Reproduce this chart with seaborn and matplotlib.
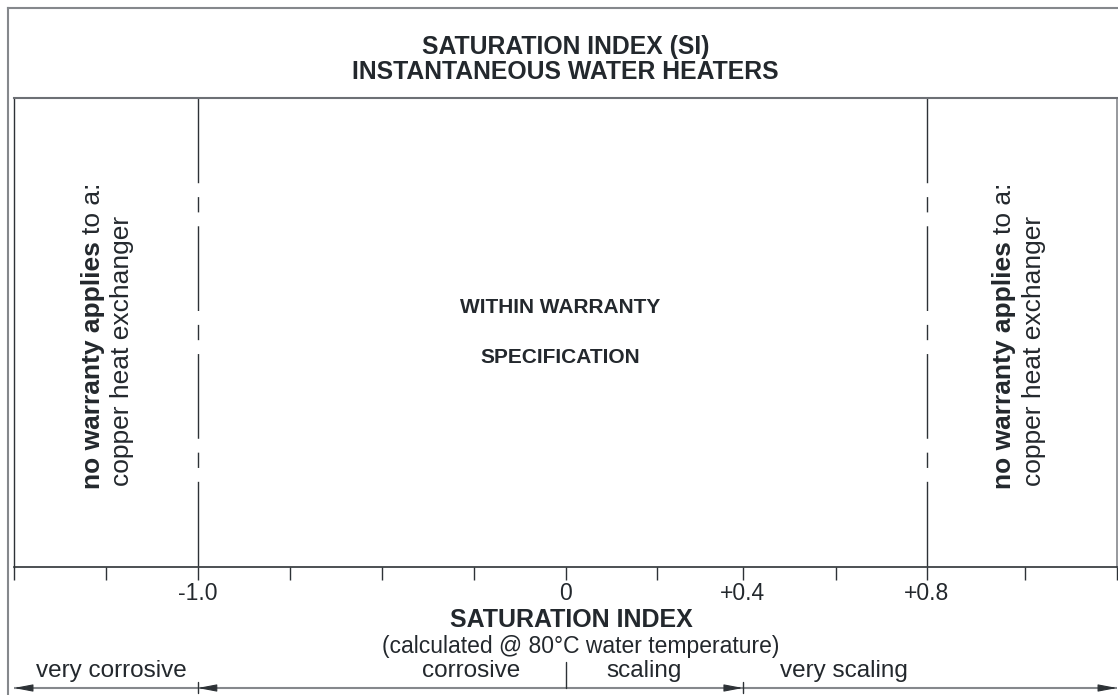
import matplotlib
matplotlib.use("Agg")
import matplotlib.pyplot as plt
import matplotlib.transforms as mtransforms
import seaborn as sns

# schematic SI axis: ticks are evenly drawn, only some carry a value
tick_pos = [0, 1, 2, 3, 4, 5, 6, 7, 7.93, 8.94, 9.93, 11, 12]
tick_labels = ["", "", "-1.0", "", "", "", "0", "", "+0.4", "", "+0.8", "", ""]

# warranty limits (-1.0 and +0.8)
warranty_limits = [2, 9.93]
# zone edges along the bottom arrow (start, -1.0, +0.4, end) and the 0 divider
zone_edges = [0, 2, 7.93, 12]
zero_pos = 6
zone_names = ["very corrosive", "corrosive", "scaling", "very scaling"]
zone_label_x = [1.055, 4.97, 6.85, 9.03]

title_lines = ["SATURATION INDEX (SI)", "INSTANTANEOUS WATER HEATERS"]
centre_lines = ["WITHIN WARRANTY", "SPECIFICATION"]
side_bold = "no warranty applies"
side_regular = "to a:"
side_second = "copper heat exchanger"
# baseline x of the two rotated lines in each excluded zone
side_x = [(0.94, 1.25), (10.85, 11.17)]

sns.set_theme(style="white")
plt.rcParams["font.family"] = ["Liberation Sans", "DejaVu Sans"]

TXT = "#23282d"
DARK = "#2d3236"
GREY = "#85888c"

W, H = 1118, 695
fig = plt.figure(figsize=(W / 100, H / 100), dpi=100)

# outer frame (only the top and left edges are visible)
frame = fig.add_axes([8 / W, -0.05, 1.0, 1 - 8 / H + 0.05], zorder=0)
frame.set_xticks([])
frame.set_yticks([])
frame.patch.set_visible(False)
sns.despine(ax=frame, top=False, left=False, right=True, bottom=True)
for s in ["top", "left"]:
    frame.spines[s].set_color(GREY)
    frame.spines[s].set_linewidth(1.5)

# main box: pixel 14..1117 horizontally, 98..567 vertically
ax = fig.add_axes([14 / W, 1 - 567 / H, 1103 / W, 469 / H], zorder=1)
ax.patch.set_visible(False)
ax.set_xlim(tick_pos[0], tick_pos[-1])
ax.set_ylim(0, 1)
ax.set_yticks([])
ax.set_xticks(tick_pos)
ax.set_xticklabels(tick_labels)
ax.tick_params(axis="x", direction="out", length=9.4, width=1, color=DARK,
               pad=1.5, labelsize=16.5, labelcolor=TXT, bottom=True)
ax.spines["top"].set_color("#6d7075")
ax.spines["top"].set_linewidth(1.5)
ax.spines["left"].set_color(DARK)
ax.spines["left"].set_linewidth(1)
ax.spines["right"].set_color(GREY)
ax.spines["right"].set_linewidth(1.2)
ax.spines["bottom"].set_color(DARK)
ax.spines["bottom"].set_linewidth(1.2)


def yf(px):
    # pixel row -> axes fraction
    return (567 - px) / 469


blend = mtransforms.blended_transform_factory(ax.transData, ax.transAxes)

# warranty limits, long-short dashed
for x in warranty_limits:
    ax.plot([x, x], [1, 0], color=DARK, lw=1,
            linestyle=(0, (61, 10, 11, 10)), transform=blend, clip_on=False)

# titles
ax.text(0.5, yf(54), title_lines[0], transform=ax.transAxes, ha="center",
        va="baseline", fontsize=17.8, fontweight="bold", color=TXT)
ax.text(0.5, yf(79), title_lines[1], transform=ax.transAxes, ha="center",
        va="baseline", fontsize=17.8, fontweight="bold", color=TXT)

# centre text
ax.text(5.94, yf(313), centre_lines[0], transform=blend, ha="center",
        va="baseline", fontsize=15, fontweight="bold", color=TXT)
ax.text(5.94, yf(363), centre_lines[1], transform=blend, ha="center",
        va="baseline", fontsize=15, fontweight="bold", color=TXT)

# rotated side notes
for x1, x2 in side_x:
    t1 = ax.text(x1, yf(489), side_bold, transform=blend, rotation=90,
                 rotation_mode="anchor", ha="left", va="baseline",
                 fontsize=19, fontweight="bold", color=TXT)
    ax.annotate(side_regular, xy=(x1, 1.0), xycoords=(blend, t1),
                xytext=(0, 5), textcoords="offset points", rotation=90,
                rotation_mode="anchor", ha="left", va="baseline",
                fontsize=19, color=TXT)
    ax.text(x2, yf(486), side_second, transform=blend, rotation=90,
            rotation_mode="anchor", ha="left", va="baseline",
            fontsize=19, color=TXT)

# axis title
ax.text(0.505, yf(627), "SATURATION INDEX", transform=ax.transAxes,
        ha="center", va="baseline", fontsize=18, fontweight="bold", color=TXT)
ax.text(0.514, yf(653), "(calculated @ 80°C water temperature)",
        transform=ax.transAxes, ha="center", va="baseline", fontsize=16.5,
        color=TXT)

# zone band at the bottom
y_arrow = yf(688)
ax.plot([zone_edges[0], zone_edges[-1]], [y_arrow, y_arrow], color=GREY,
        lw=1.5, transform=blend, clip_on=False, solid_capstyle="butt")
for name, x in zip(zone_names, zone_label_x):
    ax.text(x, yf(677), name, transform=blend, ha="center", va="baseline",
            fontsize=17.5, color=TXT)

arrow_style = "-|>,head_length=1.15,head_width=0.22"
for tip, d in [(zone_edges[0], 0.2), (zone_edges[1], 0.2),
               (zone_edges[2], -0.2), (zone_edges[3], -0.2)]:
    ax.annotate("", xy=(tip, y_arrow), xycoords=blend,
                xytext=(tip + d, y_arrow), textcoords=blend,
                arrowprops=dict(arrowstyle=arrow_style, color=DARK, lw=0.8,
                                shrinkA=0, shrinkB=0, mutation_scale=10))

for x, top, bottom in [(zone_edges[1], 682, 693), (zero_pos, 662, 688),
                       (zone_edges[2], 682, 693)]:
    ax.plot([x, x], [yf(top), yf(bottom)], color=DARK, lw=1,
            transform=blend, clip_on=False)

fig.savefig("out.png", dpi=100)
